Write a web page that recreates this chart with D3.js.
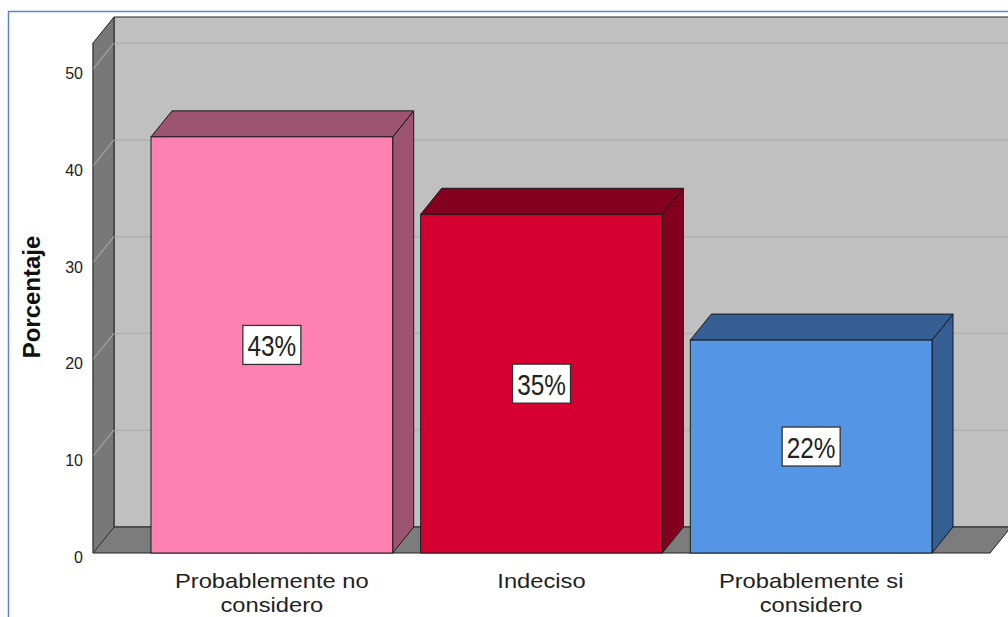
<!DOCTYPE html>
<html>
<head>
<meta charset="utf-8">
<script src="https://cdn.jsdelivr.net/npm/d3@7/dist/d3.min.js"></script>
<style>
  html, body { margin: 0; padding: 0; background: #ffffff; }
  svg { display: block; font-family: "Liberation Sans", Arial, sans-serif; }
</style>
</head>
<body>
<svg id="chart" width="1008" height="617"></svg>
<script>
// Survey response shares (percent)
const categories = ["Probablemente no considero", "Indeciso", "Probablemente si considero"];
const categoryLines = [["Probablemente no", "considero"], ["Indeciso"], ["Probablemente si", "considero"]];
const values = [43, 35, 22];
const valueLabels = ["43%", "35%", "22%"];
const yTicks = [0, 10, 20, 30, 40, 50];

const frontColors = ["#fe81b1", "#d60030", "#5595e5"];
const sideColors  = ["#9c5471", "#84001f", "#355e93"];

const svg = d3.select("#chart");

// 3D depth offset of the box
const DX = 21, DY = -26;

// Front-plane scales
const y = d3.scaleLinear().domain([0, 52.7]).range([553, 43]);
const x = d3.scaleBand().domain(categories).range([151, 932]).paddingInner(0.1037).paddingOuter(0);

const plotLeft = 93, plotRight = 990;
const y0 = y(0), yTop = y(y.domain()[1]);

// Outer frame
svg.append("rect")
  .attr("x", 8.5).attr("y", 11.5).attr("width", 1100).attr("height", 700)
  .attr("fill", "none").attr("stroke", "#5b83d0").attr("stroke-width", 1.5);

const pts = a => a.map(p => p.join(",")).join(" ");

// Back wall
svg.append("polygon")
  .attr("points", pts([[plotLeft + DX, yTop + DY], [plotRight + DX, yTop + DY], [plotRight + DX, y0 + DY], [plotLeft + DX, y0 + DY]]))
  .attr("fill", "#c0c0c0").attr("stroke", "#222").attr("stroke-width", 1);

// Back wall gridlines
svg.append("g").selectAll("line")
  .data(yTicks.filter(t => t > 0))
  .join("line")
  .attr("x1", plotLeft + DX).attr("x2", plotRight + DX)
  .attr("y1", d => y(d) + DY).attr("y2", d => y(d) + DY)
  .attr("stroke", "#b3b3b3").attr("stroke-width", 2);

// Left wall
svg.append("polygon")
  .attr("points", pts([[plotLeft, yTop], [plotLeft + DX, yTop + DY], [plotLeft + DX, y0 + DY], [plotLeft, y0]]))
  .attr("fill", "#787878").attr("stroke", "#222").attr("stroke-width", 1);

// Left wall gridlines
svg.append("g").selectAll("line")
  .data(yTicks)
  .join("line")
  .attr("x1", plotLeft).attr("x2", plotLeft + DX)
  .attr("y1", d => y(d)).attr("y2", d => y(d) + DY)
  .attr("stroke", "#a2a2a2").attr("stroke-width", 1.2);

// Floor
svg.append("polygon")
  .attr("points", pts([[plotLeft, y0], [plotLeft + DX, y0 + DY], [plotRight + DX, y0 + DY], [plotRight, y0]]))
  .attr("fill", "#7c7c7c").attr("stroke", "#222").attr("stroke-width", 1);

// Front-left edge of the left wall
svg.append("line")
  .attr("x1", plotLeft).attr("x2", plotLeft).attr("y1", yTop).attr("y2", y0)
  .attr("stroke", "#555").attr("stroke-width", 1);

// Bars as 3D boxes
const bars = svg.append("g").selectAll("g")
  .data(categories.map((c, i) => ({ c, v: values[i], i })))
  .join("g");

bars.each(function(d) {
  const g = d3.select(this);
  const x0 = x(d.c), x1 = x(d.c) + x.bandwidth();
  const yt = y(d.v);
  // right side
  g.append("polygon")
    .attr("points", pts([[x1, yt], [x1 + DX, yt + DY], [x1 + DX, y0 + DY], [x1, y0]]))
    .attr("fill", sideColors[d.i]).attr("stroke", "#1a1a1a").attr("stroke-width", 1);
  // top
  g.append("polygon")
    .attr("points", pts([[x0, yt], [x0 + DX, yt + DY], [x1 + DX, yt + DY], [x1, yt]]))
    .attr("fill", sideColors[d.i]).attr("stroke", "#1a1a1a").attr("stroke-width", 1);
  // front
  g.append("rect")
    .attr("x", x0).attr("y", yt).attr("width", x.bandwidth()).attr("height", y0 - yt)
    .attr("fill", frontColors[d.i]).attr("stroke", "#1a1a1a").attr("stroke-width", 1);
});

// Value labels in white boxes
const lab = svg.append("g").selectAll("g")
  .data(categories.map((c, i) => ({ c, v: values[i], i })))
  .join("g")
  .attr("transform", d => `translate(${x(d.c) + x.bandwidth() / 2},${(y(d.v) + y0) / 2})`);

lab.append("rect")
  .attr("x", -29).attr("y", -19.5).attr("width", 58).attr("height", 39)
  .attr("fill", "#ffffff").attr("stroke", "#333").attr("stroke-width", 1.3);

lab.append("text")
  .attr("text-anchor", "middle")
  .attr("transform", "translate(0,11) scale(0.84,1)")
  .attr("font-size", 29)
  .attr("fill", "#222")
  .text((d, i) => valueLabels[i]);

// Y axis tick labels
svg.append("g").selectAll("text")
  .data(yTicks)
  .join("text")
  .attr("x", 83).attr("y", d => y(d) + 10)
  .attr("text-anchor", "end")
  .attr("font-size", 16)
  .attr("fill", "#222")
  .text(d => d);

// Y axis title
svg.append("text")
  .attr("transform", "translate(40,297) rotate(-90)")
  .attr("text-anchor", "middle")
  .attr("font-size", 24)
  .attr("font-weight", "bold")
  .attr("fill", "#111")
  .text("Porcentaje");

// Category labels, one text per line, widened slightly
const catLines = [];
categories.forEach((c, i) => {
  categoryLines[i].forEach((t, j) => catLines.push({ t, cx: x(c) + x.bandwidth() / 2, j }));
});

svg.append("g").selectAll("text")
  .data(catLines)
  .join("text")
  .attr("text-anchor", "middle")
  .attr("font-size", 21)
  .attr("fill", "#222")
  .attr("transform", d => `translate(${d.cx},${588 + d.j * 24}) scale(1.13,1)`)
  .text(d => d.t);
</script>
</body>
</html>
